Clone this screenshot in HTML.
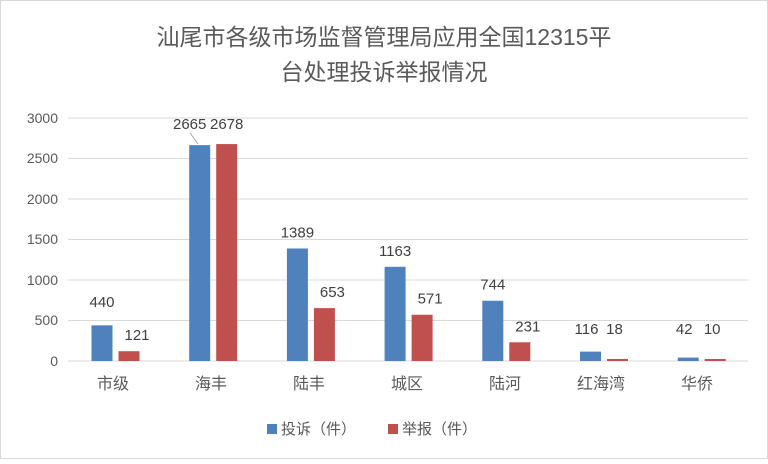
<!DOCTYPE html>
<html><head><meta charset="utf-8"><style>
body{margin:0;background:#fff}
svg text{font-family:"Liberation Sans","Noto Sans CJK SC",sans-serif}
</style></head><body>
<svg width="768" height="459" xmlns="http://www.w3.org/2000/svg">
<rect x="0.5" y="0.5" width="767" height="458" fill="#fff" stroke="#d9d9d9"/>
<text x="384" y="45" text-anchor="middle" font-size="23" fill="#595959">汕尾市各级市场监督管理局应用全国12315平</text>
<text x="384" y="80" text-anchor="middle" font-size="23" fill="#595959">台处理投诉举报情况</text>
<g stroke="#d9d9d9" stroke-width="1">
<line x1="68" x2="748" y1="118" y2="118"/><line x1="68" x2="748" y1="158.5" y2="158.5"/>
<line x1="68" x2="748" y1="199" y2="199"/><line x1="68" x2="748" y1="239.5" y2="239.5"/>
<line x1="68" x2="748" y1="280" y2="280"/><line x1="68" x2="748" y1="320.5" y2="320.5"/>
<line x1="68" x2="748" y1="361" y2="361"/>
</g>
<g font-size="14" fill="#595959" text-anchor="end">
<text x="58" y="123">3000</text><text x="58" y="163">2500</text><text x="58" y="204">2000</text>
<text x="58" y="244">1500</text><text x="58" y="285">1000</text><text x="58" y="325">500</text><text x="58" y="366">0</text>
</g>
<g id="bars"></g>
<g font-size="15" fill="#404040" text-anchor="middle" id="lbl"></g>
<line x1="190" y1="133" x2="198" y2="144" stroke="#a6a6a6"/>
<g font-size="16" fill="#595959" text-anchor="middle">
<text x="113" y="389">市级</text><text x="211" y="389">海丰</text><text x="309" y="389">陆丰</text>
<text x="407" y="389">城区</text><text x="505" y="389">陆河</text><text x="601" y="389">红海湾</text><text x="697" y="389">华侨</text>
</g>
<rect x="267" y="424" width="10" height="10" fill="#4f81bd"/>
<text x="281" y="434" font-size="15" fill="#595959">投诉（件）</text>
<rect x="388" y="424" width="10" height="10" fill="#c0504d"/>
<text x="402" y="434" font-size="15" fill="#595959">举报（件）</text>
<script>
var b=[[440,121],[2665,2678],[1389,653],[1163,571],[744,231],[116,18],[42,10]];
var ns="http://www.w3.org/2000/svg",g=document.getElementById('bars'),l=document.getElementById('lbl');
function y(v){return 361-v*243/3000;}
b.forEach(function(p,i){var c=113+i*97.7;
[[c-21.5,'#4f81bd',p[0]],[c+5.5,'#c0504d',p[1]]].forEach(function(q,k){
var h=Math.max(361-y(q[2]),2);
var r=document.createElementNS(ns,'rect');r.setAttribute('x',q[0]);r.setAttribute('y',361-h);
r.setAttribute('width',21);r.setAttribute('height',h);r.setAttribute('fill',q[1]);g.appendChild(r);
var t=document.createElementNS(ns,'text');var ty=y(q[2])-11;
if(i==1){ty=129;}
if(i==0&&k==0)ty=307;
if(i>=5)ty=334;
var dx=0;if(i==1&&k==0)dx=-10;if(k==1&&i!=1)dx=8;if(i>=5&&k==1)dx=-3;if(i>=5&&k==0)dx=-4;
t.setAttribute('x',q[0]+10.5+dx);t.setAttribute('y',ty);t.textContent=q[2];l.appendChild(t);});
});
</script>
</svg>
</body></html>
